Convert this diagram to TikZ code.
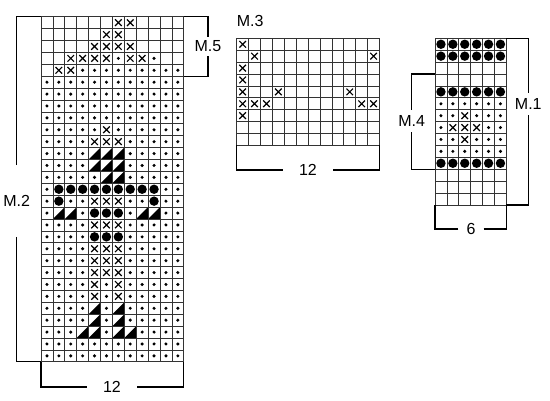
\documentclass[tikz,border=0pt]{standalone}
\usepackage{fontspec}
\setmainfont{Liberation Sans}
\usetikzlibrary{positioning}

% chart symbols: #1 column, #2 row (cell units)
\newcommand{\knito}[2]{}
\newcommand{\knitd}[2]{\fill (#1-0.5,#2-0.5) circle (1.7pt);}
\newcommand{\knitb}[2]{\fill (#1-0.5,#2-0.5) circle (4.7pt);}
\newcommand{\knitx}[2]{\draw[line width=1.2pt] (#1-0.5,#2-0.5) ++(-3.3pt,-3.3pt) -- ++(6.6pt,6.6pt)
  (#1-0.5,#2-0.5) ++(-3.3pt,3.3pt) -- ++(6.6pt,-6.6pt);}
\newcommand{\knitt}[2]{\fill (#1-1,#2) -- (#1,#2) -- (#1,#2-1) -- cycle;}
\newcommand{\knitsym}[3]{\csname knit#1\endcsname{#2}{#3}}

\begin{document}
\begin{tikzpicture}[x=1pt, y=-1pt, >=latex, font=\fontsize{16}{19}\selectfont]
        \tikzstyle{gridline} = [draw=black!80, line width=0.8pt]
        \tikzstyle{bracket} = [draw=black, line width=1.2pt]
        \tikzstyle{lbl} = [inner sep=0pt]
        \useasboundingbox (0,0) rectangle (550,400);

        % M.2
        \begin{scope}[shift={(41,16.7)}, x=11.9pt, y=-11.9pt]
            \foreach \rowdata [count=\r] in {
                {o,o,o,o,o,o,x,x,o,o,o,o},
                {o,o,o,o,o,x,x,o,o,o,o,o},
                {o,o,o,o,x,x,x,x,o,o,o,o},
                {o,o,x,x,x,x,d,x,x,d,o,o},
                {o,x,x,d,d,d,d,d,d,d,d,d},
                {d,d,d,d,d,d,d,d,d,d,d,d},
                {d,d,d,d,d,d,d,d,d,d,d,d},
                {d,d,d,d,d,d,d,d,d,d,d,d},
                {d,d,d,d,d,d,d,d,d,d,d,d},
                {d,d,d,d,d,x,d,d,d,d,d,d},
                {d,d,d,d,x,x,x,d,d,d,d,d},
                {d,d,d,d,t,t,t,d,d,d,d,d},
                {d,d,d,d,t,t,t,d,d,d,d,d},
                {d,d,d,d,d,t,t,d,d,d,d,d},
                {d,b,b,b,b,b,b,b,b,b,d,d},
                {d,b,d,d,x,x,x,d,d,b,d,d},
                {d,t,t,d,b,b,b,d,t,t,d,d},
                {d,d,d,d,x,x,x,d,d,d,d,d},
                {d,d,d,d,b,b,b,d,d,d,d,d},
                {d,d,d,d,x,x,x,d,d,d,d,d},
                {d,d,d,d,x,x,x,d,d,d,d,d},
                {d,d,d,d,x,x,x,d,d,d,d,d},
                {d,d,d,d,x,d,x,d,d,d,d,d},
                {d,d,d,d,x,d,x,d,d,d,d,d},
                {d,d,d,d,t,d,t,d,d,d,d,d},
                {d,d,d,d,t,d,t,d,d,d,d,d},
                {d,d,d,t,t,d,t,t,d,d,d,d},
                {d,d,d,d,d,d,d,d,d,d,d,d},
                {d,d,d,d,d,d,d,d,d,d,d,d}}
                \foreach \s [count=\c] in \rowdata {\knitsym{\s}{\c}{\r}};
            \foreach \i in {0,...,12} \draw[gridline] (\i,0) -- (\i,29);
            \foreach \j in {0,...,29} \draw[gridline] (0,\j) -- (12,\j);
            \coordinate (m2nw) at (0,0);
            \coordinate (m2ne) at (12,0);
            \coordinate (m2sw) at (0,29);
            \coordinate (m2se) at (12,29);
            \coordinate (m5se) at (12,5);
        \end{scope}

        % M.3
        \begin{scope}[shift={(236.7,38.3)}, x=11.9pt, y=-11.9pt]
            \foreach \rowdata [count=\r] in {
                {x,o,o,o,o,o,o,o,o,o,o,o},
                {o,x,o,o,o,o,o,o,o,o,o,x},
                {x,o,o,o,o,o,o,o,o,o,o,o},
                {x,o,o,o,o,o,o,o,o,o,o,o},
                {x,o,o,x,o,o,o,o,o,x,o,o},
                {x,x,x,o,o,o,o,o,o,o,x,x},
                {x,o,o,o,o,o,o,o,o,o,o,o},
                {o,o,o,o,o,o,o,o,o,o,o,o},
                {o,o,o,o,o,o,o,o,o,o,o,o}}
                \foreach \s [count=\c] in \rowdata {\knitsym{\s}{\c}{\r}};
            \foreach \i in {0,...,12} \draw[gridline] (\i,0) -- (\i,9);
            \foreach \j in {0,...,9} \draw[gridline] (0,\j) -- (12,\j);
            \coordinate (m3sw) at (0,9);
            \coordinate (m3se) at (12,9);
        \end{scope}

        % M.1 / M.4
        \begin{scope}[shift={(435,38.3)}, x=11.9pt, y=-11.9pt]
            \foreach \rowdata [count=\r] in {
                {b,b,b,b,b,b},
                {b,b,b,b,b,b},
                {o,o,o,o,o,o},
                {o,o,o,o,o,o},
                {b,b,b,b,b,b},
                {d,d,d,d,d,d},
                {d,d,x,d,d,d},
                {d,x,x,x,d,d},
                {d,d,x,d,d,d},
                {d,d,d,d,d,d},
                {b,b,b,b,b,b},
                {o,o,o,o,o,o},
                {o,o,o,o,o,o},
                {o,o,o,o,o,o}}
                \foreach \s [count=\c] in \rowdata {\knitsym{\s}{\c}{\r}};
            \foreach \i in {0,...,6} \draw[gridline] (\i,0) -- (\i,14);
            \foreach \j in {0,...,14} \draw[gridline] (0,\j) -- (6,\j);
            \coordinate (m1ne) at (6,0);
            \coordinate (m1se) at (6,14);
            \coordinate (m1sw) at (0,14);
            \coordinate (m4nw) at (0,3);
            \coordinate (m4sw) at (0,11);
        \end{scope}

        % labels
        \node[lbl, inner ysep=30pt] (m2) at (16.7,201) {M.2};
        \node[lbl, inner ysep=4pt] (m5) at (208,46.5) {M.5};
        \node[lbl, anchor=west] (m3) at (236.7,21) {M.3};
        \node[lbl, inner ysep=5.5pt] (m4) at (411.7,121) {M.4};
        \node[lbl, inner ysep=5.5pt] (m1) at (528.3,104) {M.1};
        \node[lbl, inner xsep=16pt] (w12a) at (112,387) {12};
        \node[lbl, inner xsep=16pt] (w12b) at (308,170) {12};
        \node[lbl, inner xsep=8pt] (w6) at (471,229) {6};

        % brackets
        \draw[bracket] (m2.north) |- (m2nw);
        \draw[bracket] (m2.south) |- (m2sw);
        \draw[bracket] (m5.north) |- (m2ne);
        \draw[bracket] (m5.south) |- (m5se);
        \draw[bracket] (w12a.west) -| (m2sw);
        \draw[bracket] (w12a.east) -| (m2se);
        \draw[bracket] (w12b.west) -| (m3sw);
        \draw[bracket] (w12b.east) -| (m3se);
        \draw[bracket] (m4.north) |- (m4nw);
        \draw[bracket] (m4.south) |- (m4sw);
        \draw[bracket] (m1.north) |- (m1ne);
        \draw[bracket] (m1.south) |- (m1se);
        \draw[bracket] (w6.west) -| (m1sw);
        \draw[bracket] (w6.east) -| (m1se);
    \end{tikzpicture}
\end{document}
